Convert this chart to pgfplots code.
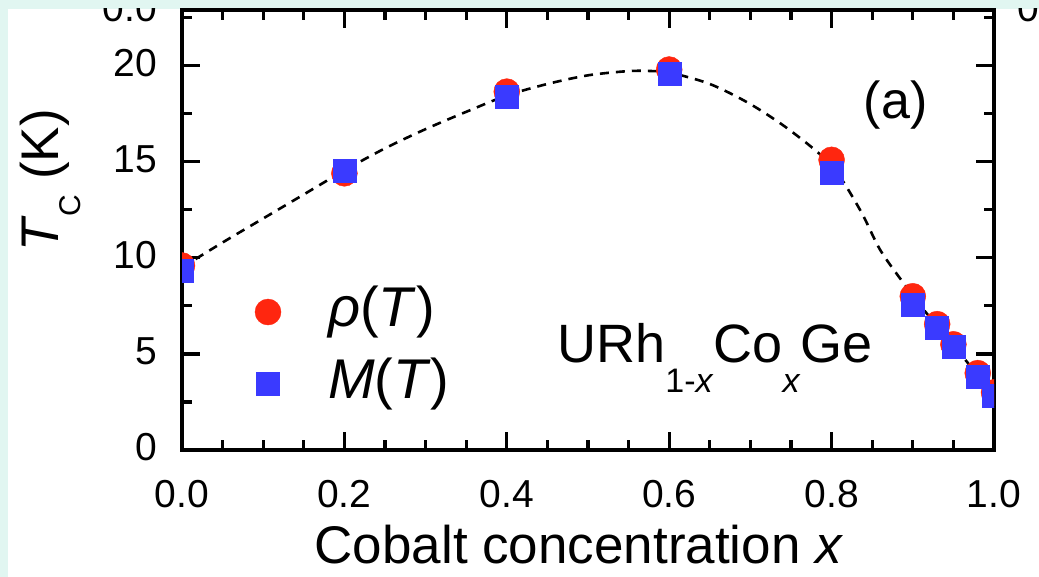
\documentclass[border=0pt]{standalone}
\usepackage{fontspec}
\setmainfont{Liberation Sans}
\usepackage{pgfplots}
\pgfplotsset{compat=1.18}
\definecolor{mint}{HTML}{E1F6F1}
\definecolor{ptred}{RGB}{255,38,15}
\definecolor{ptblue}{RGB}{58,58,255}
\begin{document}
\begin{tikzpicture}[x=1pt,y=1pt]
\path[use as bounding box] (0,0) rectangle (1039,577);
\fill[mint] (0,0) rectangle (1039,577);
\fill[white] (8,0) rectangle (1039,568);
\begin{scope}
\clip (8,0) rectangle (1039,568);
\node[anchor=base east, inner sep=0pt, font=\fontsize{39}{40}\selectfont] at (157,555) {0.0};
\node[anchor=base west, inner sep=0pt, font=\fontsize{39}{40}\selectfont] at (1017,555) {0};
\end{scope}
\begin{axis}[
  at={(182pt,127pt)}, anchor=south west,
  scale only axis, width=812pt, height=440pt,
  xmin=0, xmax=1, ymin=0, ymax=22.9,
  xtick={0,0.2,0.4,0.6,0.8,1.0},
  ytick={0,5,10,15,20},
  minor xtick={0.05,0.1,0.15,0.25,0.3,0.35,0.45,0.5,0.55,0.65,0.7,0.75,0.85,0.9,0.95},
  minor ytick={2.5,7.5,12.5,17.5,22.5},
  xtick pos=both, ytick pos=both,
  xticklabel pos=lower, yticklabel pos=left,
  tick align=inside,
  major tick length=18pt, minor tick length=10pt,
  every tick/.style={black, line width=3.2pt},
  axis line style={line width=4pt},
  clip marker paths=true,
  /pgf/number format/assume math mode=true,
  tick label style={font=\fontsize{39}{40}\selectfont},
  xticklabel style={/pgf/number format/.cd, fixed, fixed zerofill, precision=1, /tikz/.cd, inner sep=0pt, text height=28pt, text depth=0pt, anchor=north, yshift=-29pt},
  yticklabel style={inner sep=0pt, text height=28pt, text depth=0pt, anchor=east, xshift=-25pt, yshift=3pt},
  xlabel={Cobalt concentration \textit{x}},
  xlabel style={at={(axis description cs:0.489,-0.257)}, anchor=base, font=\fontsize{53}{53}\selectfont, inner sep=0pt},
  ylabel={\textit{T}\raisebox{-22pt}{\fontsize{30}{30}\selectfont C} (K)},
  ylabel style={at={(axis description cs:-0.1527,0.45)}, anchor=base west, font=\fontsize{53}{53}\selectfont, inner sep=0pt},
  legend image code/.code={\draw[#1] plot coordinates {(0pt,0pt)};},
  legend cell align=left,
  legend style={at={(axis description cs:0.0899,0.3727)}, anchor=north west, draw=none, fill=none, inner sep=0pt, outer sep=0pt, row sep=20pt, column sep=47pt, font=\fontsize{56}{60}\selectfont, nodes={inner sep=0pt, outer sep=0pt, text height=40pt, text depth=12pt}},
]
\addplot[forget plot, smooth, black, line width=2.6pt, dash pattern=on 9pt off 7pt] coordinates {
(0,9.5) (0.05,10.8) (0.1,12.05) (0.15,13.3) (0.2,14.55) (0.25,15.7) (0.3,16.7) (0.35,17.6) (0.4,18.45) (0.45,19.05) (0.5,19.5) (0.55,19.72) (0.58,19.72) (0.6,19.65) (0.65,19.05) (0.7,18.0) (0.75,16.6) (0.8,14.8) (0.835,12.5) (0.86,10.4) (0.89,8.6) (0.9,8.0) (0.93,6.45) (0.95,5.45) (0.98,3.9) (1.0,2.9)
};
\addplot[only marks, mark=*, mark size=13pt, color=ptred] coordinates {
(0,9.6) (0.2,14.4) (0.4,18.65) (0.6,19.8) (0.8,15.1) (0.9,8.0) (0.93,6.55) (0.95,5.5) (0.98,4.0) (1.0,3.0)
};
\addplot[only marks, mark=square*, mark size=11.5pt, color=ptblue] coordinates {
(0,9.35) (0.2,14.55) (0.4,18.4) (0.6,19.6) (0.8,14.45) (0.9,7.55) (0.93,6.35) (0.95,5.4) (0.98,3.8) (1.0,2.8)
};
\legend{\textit{ρ}(\textit{T}), \textit{M}(\textit{T})}
\node[inner sep=0pt, font=\fontsize{52}{52}\selectfont] at (axis cs:0.879,17.97) {(a)};
\node[anchor=base west, inner sep=0pt, font=\fontsize{54}{54}\selectfont] at (axis cs:0.462,4.53) {URh\raisebox{-30pt}{\fontsize{34}{34}\selectfont 1-\textit{x}}Co\raisebox{-30pt}{\fontsize{34}{34}\selectfont\textit{x}}Ge};
\end{axis}
\end{tikzpicture}
\end{document}
